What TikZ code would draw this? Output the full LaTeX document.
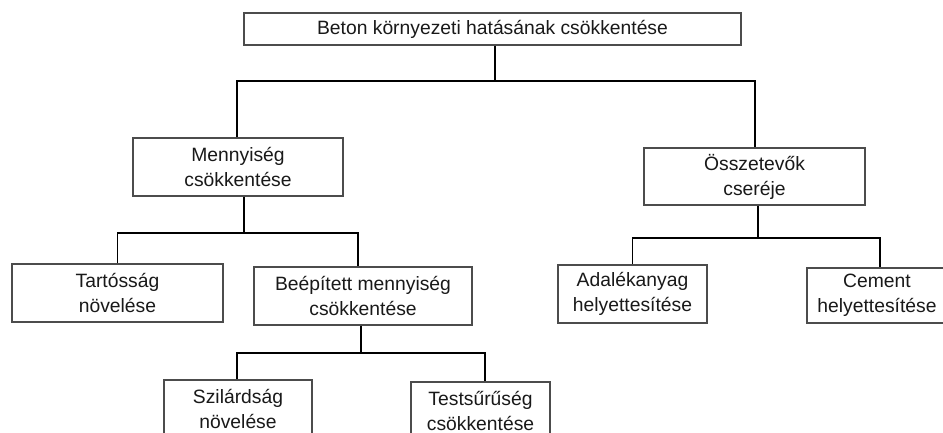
\documentclass[tikz,border=0pt]{standalone}
\usepackage{fontspec}
\setmainfont{Liberation Sans}
\begin{document}
\begin{tikzpicture}[x=1pt,y=-1pt,
  box/.style={draw=black!70, line width=1.1pt, fill=white, inner sep=0pt, align=center,
    font=\fontsize{19.3}{25}\selectfont, text=black!90},
  conn/.style={draw=black, line width=1.8pt}]
\useasboundingbox (0,0) rectangle (943,432);
\clip (0,0) rectangle (943,432);
% nodes
\node[box, minimum width=497pt, minimum height=32pt] (top) at (492.5,29) {Beton környezeti hatásának csökkentése};
\node[box, minimum width=210pt, minimum height=58pt] (men) at (238,167) {Mennyiség\\csökkentése};
\node[box, minimum width=221pt, minimum height=57pt] (oss) at (754.5,176.5) {Összetevők\\cseréje};
\node[box, minimum width=211pt, minimum height=58pt] (tar) at (117.5,293) {Tartósság\\növelése};
\node[box, minimum width=218pt, minimum height=58pt] (bee) at (363,296) {Beépített mennyiség\\csökkentése};
\node[box, minimum width=149pt, minimum height=58pt] (ada) at (632.5,294) {Adalékanyag\\helyettesítése};
\node[box, minimum width=140pt, minimum height=55pt] (cem) at (877,295.5) {Cement\\helyettesítése};
\node[box, minimum width=148pt, minimum height=58pt] (szi) at (238,409) {Szilárdság\\növelése};
\node[box, minimum width=139pt, minimum height=58pt] (tes) at (480.5,411) {Testsűrűség\\csökkentése};
% bus levels
\coordinate (b1) at (0,81);
\coordinate (b2) at (0,233);
\coordinate (b3) at (0,238);
\coordinate (b4) at (0,353);
% connectors
\draw[conn] ([xshift=2.5pt]top.south) -- ([xshift=2.5pt]top.south |- b1);
\draw[conn] ([xshift=-1pt]men.north) |- ([xshift=0.5pt]oss.north |- b1) -- ([xshift=0.5pt]oss.north);
\draw[conn] ([xshift=6pt]men.south) -- ([xshift=6pt]men.south |- b2);
\draw[conn] (tar.north) |- ([xshift=-5pt]bee.north |- b2) -- ([xshift=-5pt]bee.north);
\draw[conn] ([xshift=3.5pt]oss.south) -- ([xshift=3.5pt]oss.south |- b3);
\draw[conn] (ada.north) |- ([xshift=3pt]cem.north |- b3) -- ([xshift=3pt]cem.north);
\draw[conn] ([xshift=-2pt]bee.south) -- ([xshift=-2pt]bee.south |- b4);
\draw[conn] ([xshift=-1pt]szi.north) |- ([xshift=4.5pt]tes.north |- b4) -- ([xshift=4.5pt]tes.north);
\end{tikzpicture}
\end{document}
